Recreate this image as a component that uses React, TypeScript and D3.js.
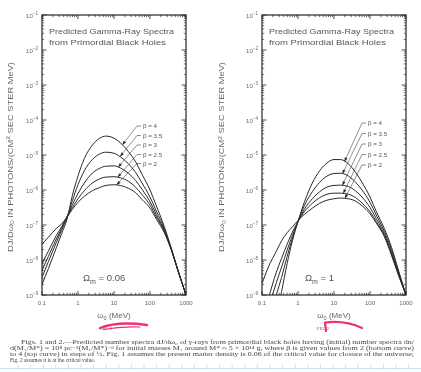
import React from 'react';
import * as d3 from 'd3';

// Photon energy grid (MeV)
const ENERGY_MEV = [0.1, 0.15, 0.25, 0.35, 0.5, 0.7, 1, 1.5, 2.5, 4, 6, 10, 15, 25, 40, 60, 100, 150, 250, 400, 600, 1000];

const BETA_LABELS = ['4', '3.5', '3', '2.5', '2'];

// log10 of dJ/dω0 (photons cm^-2 s^-1 sr^-1 MeV^-1), Fig. 1 (Ωm = 0.06)
const FIG1_B4 = [-8.7, -8.25, -7.65, -7.25, -6.82, -6.15, -5.6, -5.1, -4.72, -4.52, -4.46, -4.52, -4.65, -4.9, -5.2, -5.55, -6.0, -6.45, -7.05, -7.7, -8.3, -9.0];
const FIG1_B35 = [-8.5, -8.05, -7.5, -7.15, -6.78, -6.3, -5.85, -5.45, -5.13, -4.97, -4.92, -4.95, -5.05, -5.25, -5.5, -5.8, -6.2, -6.6, -7.1, -7.72, -8.3, -9.0];
const FIG1_B3 = [-8.3, -7.9, -7.4, -7.1, -6.75, -6.42, -6.1, -5.8, -5.52, -5.38, -5.32, -5.31, -5.37, -5.52, -5.73, -5.98, -6.33, -6.7, -7.15, -7.72, -8.3, -9.0];
const FIG1_B25 = [-8.1, -7.75, -7.3, -7.05, -6.75, -6.5, -6.25, -6.02, -5.8, -5.68, -5.63, -5.62, -5.65, -5.75, -5.92, -6.13, -6.43, -6.77, -7.18, -7.73, -8.3, -9.0];
const FIG1_B2 = [-7.55, -7.35, -7.1, -6.97, -6.77, -6.55, -6.35, -6.18, -6.02, -5.93, -5.87, -5.85, -5.87, -5.95, -6.08, -6.27, -6.52, -6.83, -7.22, -7.75, -8.32, -9.0];

// Fig. 2 (Ωm = 1)
const FIG2_B4 = [null, null, -9.6, -8.9, -8.1, -7.45, -6.9, -6.35, -5.8, -5.45, -5.25, -5.13, -5.13, -5.25, -5.5, -5.78, -6.2, -6.62, -7.1, -7.65, -8.25, -9.0];
const FIG2_B35 = [null, -9.9, -9.0, -8.5, -7.9, -7.38, -6.9, -6.45, -6.05, -5.78, -5.62, -5.53, -5.52, -5.6, -5.78, -6.0, -6.35, -6.72, -7.18, -7.72, -8.3, -9.0];
const FIG2_B3 = [null, -9.4, -8.65, -8.2, -7.72, -7.3, -6.9, -6.55, -6.25, -6.05, -5.93, -5.87, -5.86, -5.9, -6.03, -6.2, -6.5, -6.82, -7.25, -7.8, -8.33, -9.0];
const FIG2_B25 = [-9.7, -9.1, -8.35, -7.95, -7.55, -7.2, -6.9, -6.62, -6.38, -6.22, -6.13, -6.09, -6.09, -6.12, -6.22, -6.37, -6.62, -6.9, -7.3, -7.85, -8.37, -9.0];
const FIG2_B2 = [-8.68, -8.2, -7.75, -7.45, -7.22, -7.05, -6.87, -6.7, -6.52, -6.38, -6.3, -6.25, -6.23, -6.25, -6.32, -6.45, -6.68, -6.95, -7.33, -7.88, -8.4, -9.0];

// energies (MeV) at which the label arrows touch each curve
const FIG1_ARROW_MEV = [17, 14.7, 13, 12.6, 11.7];
const FIG2_ARROW_MEV = [19.5, 17, 17, 18, 20];

const Y_EXPONENTS = [-1, -2, -3, -4, -5, -6, -7, -8, -9];
const X_TICK_VALUES = [0.1, 1, 10, 100, 1000];
const X_TICK_LABELS = ['0.1', '1', '10', '100', '1000'];

const TITLE_LINES = ['Predicted Gamma-Ray Spectra', 'from Primordial Black Holes'];

const CAPTION_LINES = [
  'Figs. 1 and 2.—Predicted number spectra dJ/dω₀ of γ-rays from primordial black holes having (initial) number spectra dn/',
  'd(M₁/M*) = 10⁸ pc⁻³(M₁/M*)⁻ᵝ for initial masses M₁ around M* ≈ 5 × 10¹⁴ g, where β is given values from 2 (bottom curve)',
  'to 4 (top curve) in steps of ½. Fig. 1 assumes the present matter density is 0.06 of the critical value for closure of the universe;',
  'Fig. 2 assumes it is at the critical value.',
];

const SANS = '"Liberation Sans", Arial, sans-serif';
const SERIF = '"Liberation Serif", "DejaVu Serif", serif';
const INK = '#2a2a2a';
const TXT = '#666';

type PanelProps = {
  id: string;
  left: number;
  series: (number | null)[][];
  arrows: number[];
  omega: string;
  omegaX: number;
  labelDX: number;
  labelYs: number[];
  yLabelRight: number;
  yTitleX: number;
  fig: string;
  figX: number;
};

function Panel(p: PanelProps) {
  const top = 15, W = 144, H = 280;
  const x = d3.scaleLog().domain([0.1, 1000]).range([p.left, p.left + W]);
  const y = d3.scaleLog().domain([1e-9, 1e-1]).range([top + H, top]);

  const line = d3
    .line<[number, number | null]>()
    .defined((d) => d[1] !== null)
    .x((d) => x(d[0]))
    .y((d) => y(Math.pow(10, d[1] as number)))
    .curve(d3.curveMonotoneX);

  const xMinor: number[] = [];
  [0.1, 1, 10, 100].forEach((dec) => {
    for (let k = 2; k <= 9; k++) xMinor.push(dec * k);
  });
  const yMinor: number[] = [];
  for (let e = -9; e <= -2; e++) for (let k = 2; k <= 9; k++) yMinor.push(k * Math.pow(10, e));

  const valueAt = (s: (number | null)[], e: number) => {
    for (let i = 0; i < ENERGY_MEV.length - 1; i++) {
      if (e >= ENERGY_MEV[i] && e <= ENERGY_MEV[i + 1]) {
        const t = (Math.log10(e) - Math.log10(ENERGY_MEV[i])) / (Math.log10(ENERGY_MEV[i + 1]) - Math.log10(ENERGY_MEV[i]));
        const a = s[i] as number, b = s[i + 1] as number;
        return Math.pow(10, a + t * (b - a));
      }
    }
    return 1e-9;
  };

  const x0 = p.left, x1 = p.left + W, y0 = top, y1 = top + H;
  const labelX = p.left + p.labelDX;

  return (
    <g>
      <defs>
        <clipPath id={`clip-${p.id}`}>
          <rect x={x0} y={y0} width={W} height={H} />
        </clipPath>
      </defs>
      {/* curves */}
      <g clipPath={`url(#clip-${p.id})`}>
        {p.series.map((s, i) => (
          <path
            key={i}
            d={line(ENERGY_MEV.map((e, j) => [e, s[j]] as [number, number | null])) || ''}
            fill="none"
            stroke={INK}
            strokeWidth={1}
          />
        ))}
      </g>
      {/* frame */}
      <rect x={x0} y={y0} width={W} height={H} fill="none" stroke={INK} strokeWidth={1.2} />
      {/* x ticks bottom and top */}
      {X_TICK_VALUES.map((v, i) => (
        <g key={'xm' + i}>
          <line x1={x(v)} x2={x(v)} y1={y1} y2={y1 - 4} stroke={INK} strokeWidth={0.8} />
          <line x1={x(v)} x2={x(v)} y1={y0} y2={y0 + 4} stroke={INK} strokeWidth={0.8} />
        </g>
      ))}
      {xMinor.map((v, i) => (
        <g key={'xn' + i}>
          <line x1={x(v)} x2={x(v)} y1={y1} y2={y1 - 2.2} stroke={INK} strokeWidth={0.7} />
          <line x1={x(v)} x2={x(v)} y1={y0} y2={y0 + 2.2} stroke={INK} strokeWidth={0.7} />
        </g>
      ))}
      {/* y ticks left and right */}
      {Y_EXPONENTS.map((e, i) => (
        <g key={'ym' + i}>
          <line x1={x0} x2={x0 + 4.5} y1={y(Math.pow(10, e))} y2={y(Math.pow(10, e))} stroke={INK} strokeWidth={0.8} />
          <line x1={x1} x2={x1 - 4.5} y1={y(Math.pow(10, e))} y2={y(Math.pow(10, e))} stroke={INK} strokeWidth={0.8} />
        </g>
      ))}
      {yMinor.map((v, i) => (
        <g key={'yn' + i}>
          <line x1={x0} x2={x0 + 2.2} y1={y(v)} y2={y(v)} stroke={INK} strokeWidth={0.6} />
          <line x1={x1} x2={x1 - 2.2} y1={y(v)} y2={y(v)} stroke={INK} strokeWidth={0.6} />
        </g>
      ))}
      {/* y tick labels */}
      {Y_EXPONENTS.map((e, i) => (
        <text key={'yl' + i} x={p.yLabelRight} y={y(Math.pow(10, e)) + 2.5} textAnchor="end" fontFamily={SANS} fontSize={6} fill={TXT}>
          10
          <tspan dy={-2.6} fontSize={4.6}>{'−' + Math.abs(e)}</tspan>
        </text>
      ))}
      {/* x tick labels */}
      {X_TICK_VALUES.map((v, i) => (
        <text key={'xl' + i} x={x(v)} y={y1 + 10} textAnchor="middle" fontFamily={SANS} fontSize={6} fill={TXT}>
          {X_TICK_LABELS[i]}
        </text>
      ))}
      {/* panel title */}
      <text x={x0 + 7} y={34} fontFamily={SANS} fontSize={7.6} fill="#555" textLength={125} lengthAdjust="spacingAndGlyphs">
        {TITLE_LINES[0]}
      </text>
      <text x={x0 + 7} y={44.5} fontFamily={SANS} fontSize={7.6} fill="#555" textLength={117} lengthAdjust="spacingAndGlyphs">
        {TITLE_LINES[1]}
      </text>
      {/* beta labels with leader arrows */}
      {p.series.map((s, i) => {
        const ax = x(p.arrows[i]);
        const ay = y(valueAt(s, p.arrows[i]));
        const ly = p.labelYs[i];
        const sx = labelX - 6, sy = ly;
        const ang = Math.atan2(ay - sy, ax - sx);
        const L = 4.2, hw = 1.5;
        const bx = ax - L * Math.cos(ang), by = ay - L * Math.sin(ang);
        const px = -Math.sin(ang) * hw, py = Math.cos(ang) * hw;
        return (
          <g key={'lab' + i}>
            <polyline points={`${labelX - 2},${ly} ${sx},${sy} ${ax},${ay}`} fill="none" stroke="#444" strokeWidth={0.6} />
            <polygon points={`${ax},${ay} ${bx + px},${by + py} ${bx - px},${by - py}`} fill={INK} />
            <text x={labelX} y={ly + 2.3} fontFamily={SANS} fontSize={6.2} fill="#555">
              {'β = ' + BETA_LABELS[i]}
            </text>
          </g>
        );
      })}
      {/* Omega label */}
      <text x={p.omegaX} y={281} fontFamily={SANS} fontSize={9.5} fill="#555">
        Ω<tspan dy={2.5} fontSize={7}>m</tspan>
        <tspan dy={-2.5}>{' = ' + p.omega}</tspan>
      </text>
      {/* y title */}
      <text
        transform={`translate(${p.yTitleX},157) rotate(-90)`}
        textAnchor="middle"
        fontFamily={SANS}
        fontSize={7.6}
        fill="#666"
        textLength={190}
        lengthAdjust="spacingAndGlyphs"
      >
        DJ/Dω<tspan fontSize={5.5} dy={1.5}>0</tspan>
        <tspan dy={-1.5}> IN PHOTONS/(CM</tspan>
        <tspan fontSize={5.5} dy={-2.5}>2</tspan>
        <tspan dy={2.5}> SEC STER MeV)</tspan>
      </text>
      {/* x title */}
      <text x={(x0 + x1) / 2} y={318} textAnchor="middle" fontFamily={SANS} fontSize={8} fill="#666">
        ω<tspan fontSize={5.5} dy={1.5}>0</tspan>
        <tspan dy={-1.5}> (MeV)</tspan>
      </text>
      <text x={p.figX} y={330} textAnchor="middle" fontFamily={SERIF} fontSize={4.6} fill="#666">
        {p.fig}
      </text>
    </g>
  );
}

export default function App() {
  const blueTicks = d3.range(18, 421, 12.6);
  return (
    <svg width={421} height={372} style={{ position: 'absolute', left: 0, top: 0, background: '#fff' }}>
      <defs>
        <filter id="scan" x="-5%" y="-5%" width="110%" height="110%">
          <feGaussianBlur stdDeviation="0.28" />
        </filter>
      </defs>
      <rect x={0} y={0} width={421} height={372} fill="#fff" />
      <g filter="url(#scan)">
        <Panel
          id="f1"
          left={42}
          series={[FIG1_B4, FIG1_B35, FIG1_B3, FIG1_B25, FIG1_B2]}
          arrows={FIG1_ARROW_MEV}
          omega="0.06"
          omegaX={83}
          labelDX={101}
          labelYs={[126, 135.5, 145, 154.5, 163.5]}
          yLabelRight={38}
          yTitleX={12.5}
          fig="FIG. 1"
          figX={106}
        />
        <Panel
          id="f2"
          left={262}
          series={[FIG2_B4, FIG2_B35, FIG2_B3, FIG2_B25, FIG2_B2]}
          arrows={FIG2_ARROW_MEV}
          omega="1"
          omegaX={305}
          labelDX={106}
          labelYs={[123, 133.5, 144, 154.5, 165]}
          yLabelRight={258}
          yTitleX={224}
          fig="FIG. 2"
          figX={323}
        />
        {/* caption */}
        {CAPTION_LINES.map((t, i) => (
          <text
            key={'cap' + i}
            x={i === 0 ? 21 : 10}
            y={343.5 + i * 6.1}
            fontFamily={SERIF}
            fontSize={5.4}
            fill="#444"
            textLength={i < 3 ? (i === 0 ? 393 : 404) : undefined}
            lengthAdjust={i < 3 ? 'spacingAndGlyphs' : undefined}
          >
            {t}
          </text>
        ))}
      </g>
      {/* pink hand-drawn marks */}
      <path d="M100,328 Q118,321 147,325" fill="none" stroke="#f0307a" strokeWidth={2.4} strokeLinecap="round" />
      <path d="M103,329.5 Q122,326 140,327" fill="none" stroke="#f0307a" strokeWidth={1.2} strokeLinecap="round" />
      <path d="M326,331 L325,322.5 Q345,320 362,328" fill="none" stroke="#f0307a" strokeWidth={2.2} strokeLinecap="round" strokeLinejoin="round" />
      {/* ruled line at bottom */}
      <line x1={0} x2={421} y1={368.5} y2={368.5} stroke="#b9d7f2" strokeWidth={0.8} />
      {blueTicks.map((bx, i) => (
        <line key={'bt' + i} x1={bx} x2={bx} y1={368.5} y2={364.5} stroke="#b9d7f2" strokeWidth={0.8} />
      ))}
    </svg>
  );
}
